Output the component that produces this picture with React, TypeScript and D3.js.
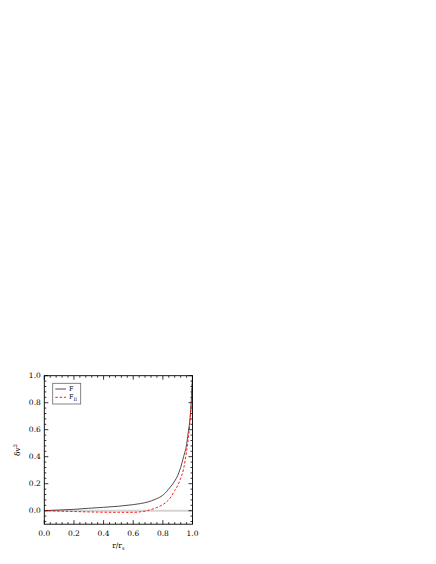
import { useRef, useEffect } from "react";
import * as d3 from "d3";

// radial samples and the two profiles
const rVals = [0, 0.1, 0.2, 0.3, 0.4, 0.5, 0.6, 0.65, 0.7, 0.75, 0.8, 0.85, 0.88, 0.9, 0.92, 0.94, 0.96, 0.97, 0.98, 0.99, 1.0];
const fVals = [0, 0.005, 0.01, 0.018, 0.025, 0.033, 0.045, 0.053, 0.065, 0.085, 0.115, 0.175, 0.22, 0.26, 0.32, 0.4, 0.49, 0.57, 0.65, 0.78, 1.0];
const fIIVals = [0, -0.003, -0.006, -0.009, -0.011, -0.012, -0.012, -0.008, 0.002, 0.02, 0.045, 0.095, 0.15, 0.185, 0.24, 0.31, 0.44, 0.52, 0.62, 0.76, 1.0];
const xTicks = [0, 0.2, 0.4, 0.6, 0.8, 1.0];
const yTicks = [0, 0.2, 0.4, 0.6, 0.8, 1.0];

const W = 436;
const H = 564;
const FONT = "'DejaVu Serif', serif";

export default function App() {
  const svgRef = useRef<SVGSVGElement>(null);

  useEffect(() => {
    if (!svgRef.current) return;
    const svg = d3.select(svgRef.current);
    svg.selectAll("*").remove();

    const x = d3.scaleLinear().domain([0, 1]).range([44.3, 192.5]);
    const y = d3.scaleLinear().domain([-0.1, 1.0]).range([524.2, 375.7]);
    const [x0, x1] = x.range();
    const [y0, y1] = y.range();

    // zero reference line
    svg.append("line").attr("x1", x(0)).attr("x2", x(1)).attr("y1", y(0)).attr("y2", y(0))
      .attr("stroke", "#d4d4d4").attr("stroke-width", 2);

    // minor ticks every 0.04
    const xMinor = d3.range(0, 1.0001, 0.04);
    const yMinor = d3.range(-0.08, 1.0001, 0.04);
    const tk = svg.append("g").attr("stroke", "#000").attr("stroke-width", 0.8);
    xMinor.forEach((v) => {
      const major = xTicks.some((t) => Math.abs(t - v) < 1e-6);
      const len = major ? 4 : 2;
      tk.append("line").attr("x1", x(v)).attr("x2", x(v)).attr("y1", y0).attr("y2", y0 - len);
      tk.append("line").attr("x1", x(v)).attr("x2", x(v)).attr("y1", y1).attr("y2", y1 + len);
    });
    yMinor.forEach((v) => {
      const major = yTicks.some((t) => Math.abs(t - v) < 1e-6);
      const len = major ? 4 : 2;
      tk.append("line").attr("x1", x0).attr("x2", x0 + len).attr("y1", y(v)).attr("y2", y(v));
      tk.append("line").attr("x1", x1).attr("x2", x1 - len).attr("y1", y(v)).attr("y2", y(v));
    });

    // curves
    const line = d3.line<number>().x((_, i) => x(rVals[i])).y((v) => y(v)).curve(d3.curveMonotoneX);
    svg.append("path").datum(fVals).attr("d", line)
      .attr("fill", "none").attr("stroke", "#222").attr("stroke-width", 0.8);
    svg.append("path").datum(fIIVals).attr("d", line)
      .attr("fill", "none").attr("stroke", "#f00").attr("stroke-width", 0.9).attr("stroke-dasharray", "2.5,1.8");

    // frame
    svg.append("rect").attr("x", x0).attr("y", y1).attr("width", x1 - x0).attr("height", y0 - y1)
      .attr("fill", "none").attr("stroke", "#000").attr("stroke-width", 0.9);

    // tick labels
    xTicks.forEach((t) => {
      svg.append("text").attr("x", x(t)).attr("y", y0 + 11.5).attr("text-anchor", "middle")
        .attr("font-family", FONT).attr("font-size", 7.5).text(t.toFixed(1));
    });
    yTicks.forEach((t) => {
      svg.append("text").attr("x", x0 - 3.5).attr("y", y(t)).attr("text-anchor", "end")
        .attr("dominant-baseline", "central").attr("font-family", FONT).attr("font-size", 7.5).text(t.toFixed(1));
    });

    // axis titles
    const xl = svg.append("text").attr("x", (x0 + x1) / 2).attr("y", y0 + 24).attr("text-anchor", "middle")
      .attr("font-family", FONT).attr("font-size", 7.5);
    xl.append("tspan").text("r/r");
    xl.append("tspan").attr("font-size", 5).attr("dy", 2).text("s");

    const yl = svg.append("text").attr("transform", `translate(${20},${(y0 + y1) / 2}) rotate(-90)`)
      .attr("text-anchor", "middle").attr("font-family", FONT).attr("font-size", 7.5);
    yl.append("tspan").text("δv");
    yl.append("tspan").attr("font-size", 5).attr("dy", -3).text("2");

    // legend
    const lg = svg.append("g");
    lg.append("rect").attr("x", 52.7).attr("y", 383.3).attr("width", 28).attr("height", 20.7)
      .attr("fill", "#fff").attr("stroke", "#666").attr("stroke-width", 0.8);
    lg.append("line").attr("x1", 55.3).attr("x2", 66).attr("y1", 389).attr("y2", 389)
      .attr("stroke", "#222").attr("stroke-width", 0.8);
    lg.append("line").attr("x1", 55.3).attr("x2", 66).attr("y1", 397.3).attr("y2", 397.3)
      .attr("stroke", "#f00").attr("stroke-width", 0.9).attr("stroke-dasharray", "2.5,1.8");
    lg.append("text").attr("x", 69).attr("y", 389).attr("dominant-baseline", "central")
      .attr("font-family", FONT).attr("font-size", 6.5).text("F");
    const l2 = lg.append("text").attr("x", 69).attr("y", 397.3).attr("dominant-baseline", "central")
      .attr("font-family", FONT).attr("font-size", 6.5);
    l2.append("tspan").text("F");
    l2.append("tspan").attr("font-size", 4.5).attr("dy", 1.5).text("II");
  }, []);

  return (
    <svg ref={svgRef} width={W} height={H}
      style={{ position: "absolute", left: 0, top: 0, background: "#fff" }} />
  );
}
